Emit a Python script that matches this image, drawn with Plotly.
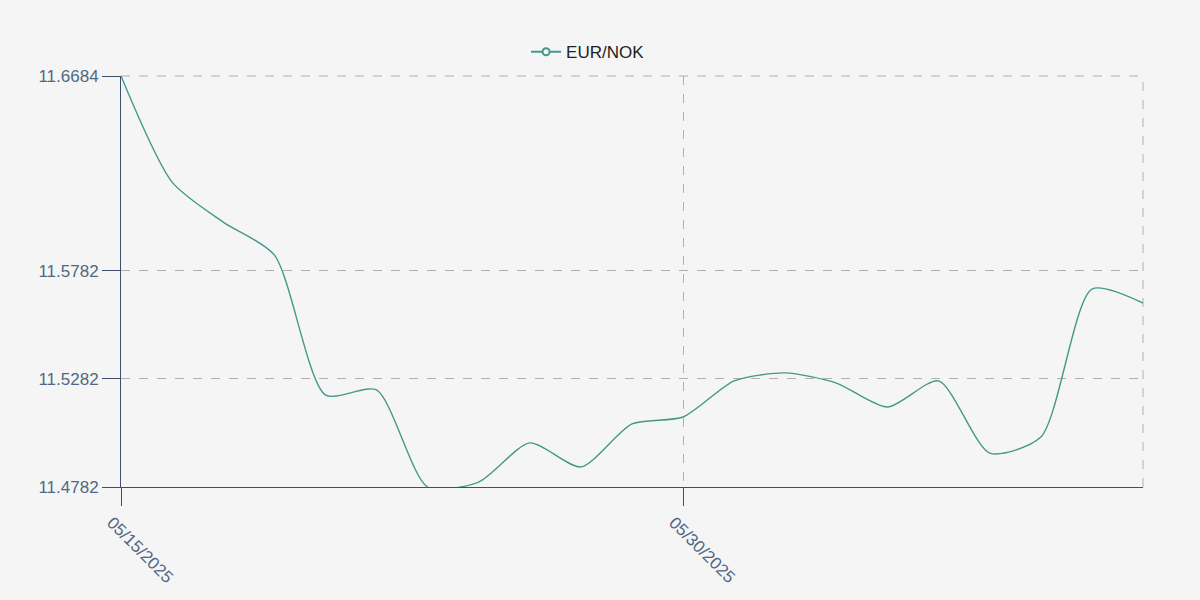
import plotly.graph_objects as go

dates = ["05/15/2025", "05/16/2025", "05/19/2025", "05/20/2025", "05/21/2025",
         "05/22/2025", "05/23/2025", "05/26/2025", "05/27/2025", "05/28/2025",
         "05/29/2025", "05/30/2025", "06/02/2025", "06/03/2025", "06/04/2025",
         "06/05/2025", "06/06/2025", "06/09/2025", "06/10/2025", "06/11/2025",
         "06/12/2025"]
rates = [11.6684, 11.6193, 11.6008, 11.5856, 11.5208,
         11.5231, 11.4782, 11.4805, 11.4986, 11.4875,
         11.5074, 11.5106, 11.5273, 11.5310, 11.5263,
         11.5152, 11.5273, 11.4939, 11.5013, 11.5698,
         11.5633]
series_name = "EUR/NOK"
x_tick_labels = ["05/15/2025", "05/30/2025"]
y_tick_values = [11.4782, 11.5282, 11.5782, 11.6684]

line_color = "#42998a"
axis_color = "#506784"
axis_line_color = "#3f4f6b"
grid_color = "#b0b0b0"
bg = "#f5f5f5"

fig = go.Figure()
fig.add_trace(go.Scatter(
    x=dates, y=rates, mode="lines", name=series_name,
    line=dict(color=line_color, width=1.4, shape="spline", smoothing=0.7),
    showlegend=False,
))
fig.add_trace(go.Scatter(
    x=[None], y=[None], mode="lines+markers", name=series_name,
    line=dict(color=line_color, width=2),
    marker=dict(color=bg, size=7, line=dict(color=line_color, width=2)),
))

for x0, x1, y0, y1 in [(1, 1, 0, 1), (0, 1, 1, 1)]:
    fig.add_shape(type="line", xref="paper", yref="paper", x0=x0, x1=x1, y0=y0, y1=y1,
                  line=dict(color=grid_color, width=1, dash="dash"), layer="below")

fig.update_layout(
    width=1200, height=600,
    paper_bgcolor=bg, plot_bgcolor=bg,
    margin=dict(l=121, r=57, t=76, b=113),
    font=dict(family="Liberation Sans, Arial, sans-serif", size=17, color=axis_color),
    legend=dict(orientation="h", x=0.457, xanchor="center", y=1.058, yanchor="middle",
                font=dict(color="#222222", size=17), bgcolor="rgba(0,0,0,0)"),
    xaxis=dict(
        type="category", range=[0, len(dates) - 1],
        tickvals=x_tick_labels, ticktext=x_tick_labels,
        tickangle=45, ticks="outside", ticklen=18, tickcolor=axis_line_color,
        ticklabelshift=-9,
        showline=True, linecolor=axis_line_color, linewidth=1,
        showgrid=True, gridcolor=grid_color, griddash="dash", gridwidth=1,
        zeroline=False,
        tickfont=dict(size=17, color=axis_color),
    ),
    yaxis=dict(
        range=[min(rates), max(rates)],
        tickvals=y_tick_values, ticktext=[f"{v:.4f}" for v in y_tick_values],
        ticks="outside", ticklen=18, tickcolor=axis_line_color,
        showline=True, linecolor=axis_line_color, linewidth=1,
        showgrid=True, gridcolor=grid_color, griddash="dash", gridwidth=1,
        zeroline=False,
        tickfont=dict(size=17, color=axis_color),
    ),
)

fig.write_html(
    "out.html",
    config={"displayModeBar": False},
    post_script="document.body.style.margin='0';document.body.style.background='#f5f5f5';",
)
